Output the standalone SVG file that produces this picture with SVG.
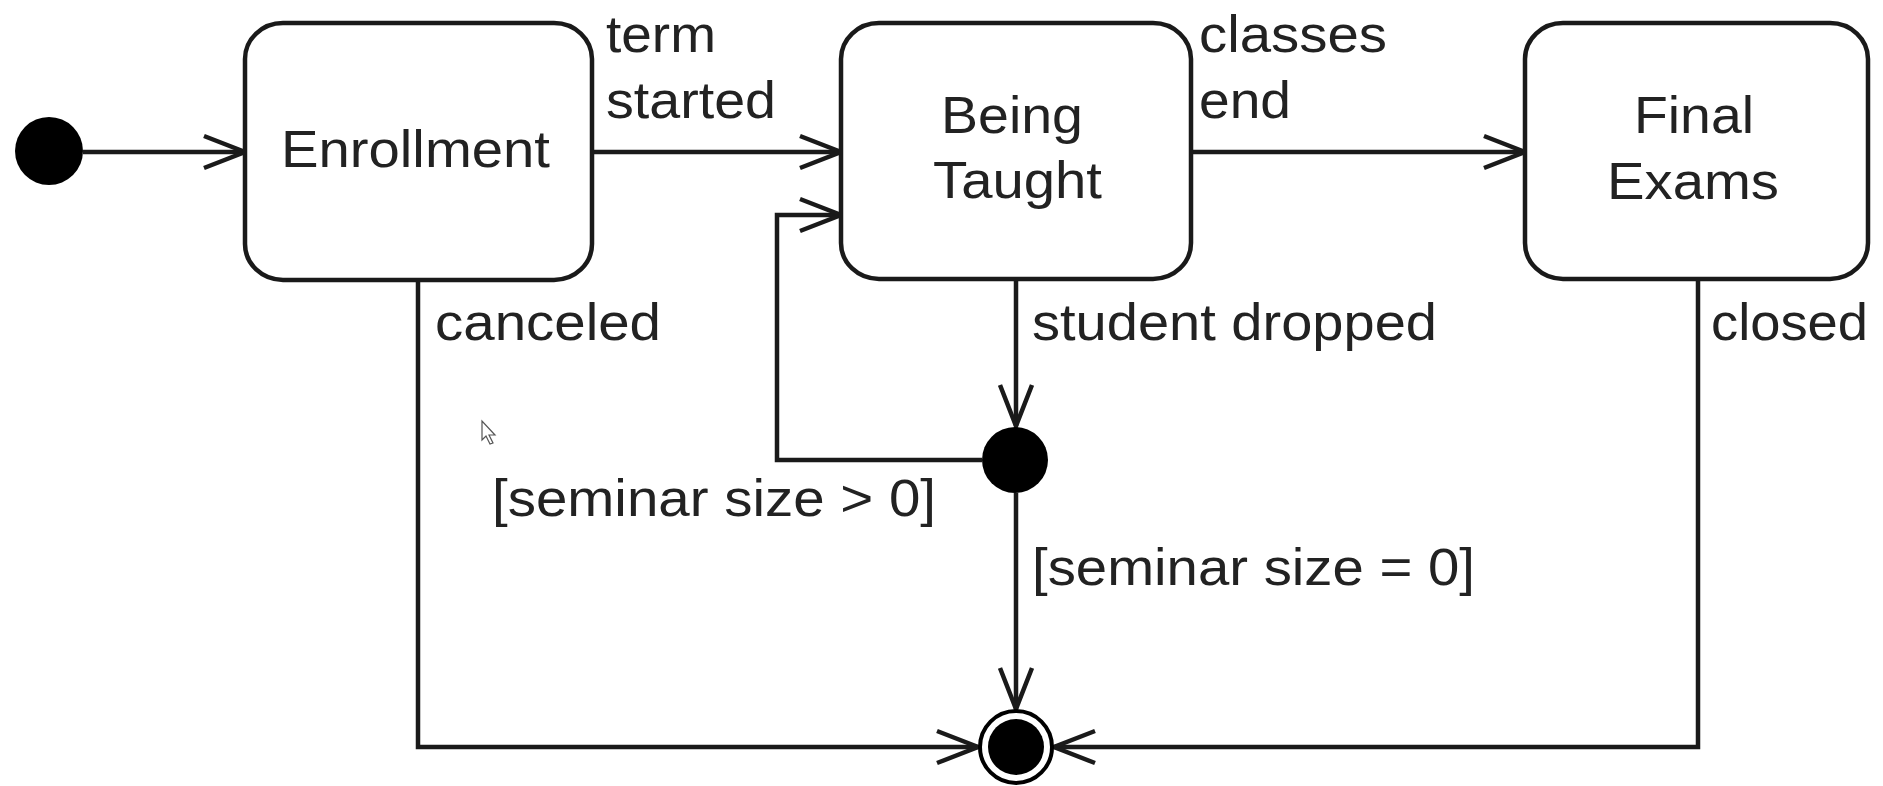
<svg xmlns="http://www.w3.org/2000/svg" width="1883" height="786" viewBox="0 0 1883 786">
<defs>
<style>
.state{fill:#fff;stroke:#1a1a1a;stroke-width:4.5}
.lbl{font-family:"Liberation Sans",Arial,sans-serif;font-size:52px;fill:#222}
.edge{fill:none;stroke:#1a1a1a;stroke-width:4.5}
.dot{fill:#000}
</style>
<marker id="arr" markerUnits="userSpaceOnUse" viewBox="0 0 46 38" refX="43" refY="19" markerWidth="46" markerHeight="38" orient="auto">
<path d="M2,3 L43,19 L2,35" fill="none" stroke="#1a1a1a" stroke-width="4.5"/>
</marker>
</defs>
<rect width="1883" height="786" fill="#fff"/>
<g id="connectors">
<path class="edge" d="M83,152 L245,152" marker-end="url(#arr)"/>
<path class="edge" d="M592,152 L841,152" marker-end="url(#arr)"/>
<path class="edge" d="M1191,152 L1525,152" marker-end="url(#arr)"/>
<path class="edge" d="M418,280 L418,747 L978,747" marker-end="url(#arr)"/>
<path class="edge" d="M1698,279 L1698,747 L1054,747" marker-end="url(#arr)"/>
<path class="edge" d="M1016,279 L1016,426" marker-end="url(#arr)"/>
<path class="edge" d="M982,460 L777,460 L777,215 L841,215" marker-end="url(#arr)"/>
<path class="edge" d="M1016,493 L1016,709" marker-end="url(#arr)"/>
<text class="lbl" x="606" y="52" textLength="110" lengthAdjust="spacingAndGlyphs">term</text>
<text class="lbl" x="606" y="118" textLength="170" lengthAdjust="spacingAndGlyphs">started</text>
<text class="lbl" x="1199" y="52" textLength="188" lengthAdjust="spacingAndGlyphs">classes</text>
<text class="lbl" x="1199" y="118" textLength="92" lengthAdjust="spacingAndGlyphs">end</text>
<text class="lbl" x="435" y="340" textLength="226" lengthAdjust="spacingAndGlyphs">canceled</text>
<text class="lbl" x="1032" y="340" textLength="405" lengthAdjust="spacingAndGlyphs">student dropped</text>
<text class="lbl" x="1711" y="340" textLength="157" lengthAdjust="spacingAndGlyphs">closed</text>
<text class="lbl" x="492" y="516" textLength="444" lengthAdjust="spacingAndGlyphs">[seminar size &gt; 0]</text>
<text class="lbl" x="1032" y="585" textLength="443" lengthAdjust="spacingAndGlyphs">[seminar size = 0]</text>
</g>
<g id="initial">
<circle class="dot" cx="49" cy="151" r="34"/>
</g>
<g id="enrollment">
<rect class="state" x="245" y="23" width="347" height="257" rx="38" ry="36"/>
<text class="lbl" x="281" y="167" textLength="269" lengthAdjust="spacingAndGlyphs">Enrollment</text>
</g>
<g id="being-taught">
<rect class="state" x="841" y="23" width="350" height="256" rx="38" ry="36"/>
<text class="lbl" x="941" y="133" textLength="142" lengthAdjust="spacingAndGlyphs">Being</text>
<text class="lbl" x="933" y="198" textLength="169" lengthAdjust="spacingAndGlyphs">Taught</text>
</g>
<g id="final-exams">
<rect class="state" x="1525" y="23" width="343" height="256" rx="38" ry="36"/>
<text class="lbl" x="1634" y="133" textLength="120" lengthAdjust="spacingAndGlyphs">Final</text>
<text class="lbl" x="1607" y="199" textLength="172" lengthAdjust="spacingAndGlyphs">Exams</text>
</g>
<g id="decision">
<circle class="dot" cx="1015" cy="460" r="33"/>
</g>
<g id="final">
<circle cx="1016" cy="747" r="36" fill="#fff" stroke="#000" stroke-width="4"/>
<circle class="dot" cx="1016" cy="747" r="28"/>
</g>
<path d="M482,421 L482,440 L486,436 L490,444 L493,443 L489,435 L495,435 Z" fill="#fff" stroke="#555" stroke-width="1.2"/>
</svg>
